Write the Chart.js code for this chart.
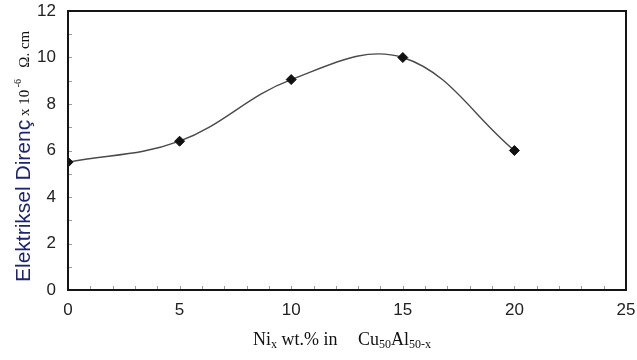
<!DOCTYPE html>
<html>
<head>
<meta charset="utf-8">
<script src="https://cdn.jsdelivr.net/npm/chart.js@4/dist/chart.umd.min.js"></script>
<style>
html,body{margin:0;padding:0;background:#fff;}
#wrap{width:637px;height:360px;position:relative;}
</style>
</head>
<body>
<div id="wrap"><canvas id="c" width="637" height="360"></canvas></div>
<script>
// Data
const niContent = [0, 5, 10, 15, 20];
const resistivity = [5.5, 6.4, 9.05, 10.0, 6.0];
const xTicks = [0, 5, 10, 15, 20, 25];
const yTicks = [0, 2, 4, 6, 8, 10, 12];

const sans = '"Liberation Sans", Arial, sans-serif';
const serif = '"Liberation Serif", "Times New Roman", serif';

const framePlugin = {
  id: 'frame',
  afterDraw(chart) {
    const {ctx, chartArea: a, scales} = chart;
    ctx.save();
    // minor ticks inside
    ctx.strokeStyle = '#9a9a9a';
    ctx.lineWidth = 1;
    for (let v = 1; v < 25; v++) {
      const x = Math.round(scales.x.getPixelForValue(v)) + 0.5;
      ctx.beginPath(); ctx.moveTo(x, a.bottom); ctx.lineTo(x, a.bottom - 4); ctx.stroke();
    }
    for (let v = 1; v < 12; v++) {
      const y = Math.round(scales.y.getPixelForValue(v)) + 0.5;
      ctx.beginPath(); ctx.moveTo(a.left, y); ctx.lineTo(a.left + 4, y); ctx.stroke();
    }
    // frame
    ctx.strokeStyle = '#151515';
    ctx.lineWidth = 2;
    ctx.strokeRect(a.left, a.top, a.right - a.left, a.bottom - a.top);

    // X axis title with subscripts
    ctx.fillStyle = '#111';
    ctx.textBaseline = 'alphabetic';
    ctx.textAlign = 'left';
    let x = 253, by = 345;
    const put = (t, font, dy) => { ctx.font = font; ctx.fillText(t, x, by + dy); x += ctx.measureText(t).width; };
    put('Ni', '18px ' + serif, 0);
    put('x', '12px ' + serif, 3);
    put(' wt.% in', '18px ' + serif, 0);
    x = 358;
    put('Cu', '18px ' + serif, 0);
    put('50', '12px ' + serif, 3);
    put('Al', '18px ' + serif, 0);
    put('50-x', '12px ' + serif, 3);

    // Y axis title rotated
    ctx.save();
    ctx.translate(30, 282);
    ctx.rotate(-Math.PI / 2);
    let p = 0;
    const putR = (t, font, color, dy) => { ctx.font = font; ctx.fillStyle = color; ctx.fillText(t, p, dy); p += ctx.measureText(t).width; };
    putR('Elektriksel Direnç', '21px ' + sans, '#1c2472', 0);
    putR(' x 10', '15px ' + serif, '#111', -1);
    putR(' -6', '10px ' + serif, '#111', -9);
    putR('   Ω. cm', '15px ' + serif, '#111', -1);
    ctx.restore();
    ctx.restore();
  }
};

function zeroPad(s) { s.paddingTop = 0; s.paddingBottom = 0; s.paddingLeft = 0; s.paddingRight = 0; }

new Chart(document.getElementById('c'), {
  type: 'line',
  data: {
    datasets: [{
      data: niContent.map((v, i) => ({x: v, y: resistivity[i]})),
      borderColor: '#4a4a4a',
      borderWidth: 1.4,
      tension: 0.38,
      pointStyle: 'rectRot',
      pointRadius: 5,
      pointBackgroundColor: '#111',
      pointBorderColor: '#111',
      pointBorderWidth: 1,
      fill: false
    }]
  },
  options: {
    responsive: false,
    animation: false,
    devicePixelRatio: 1,
    layout: {padding: {top: 11, right: 11, left: 0, bottom: 0}},
    plugins: {legend: {display: false}, tooltip: {enabled: false}},
    scales: {
      x: {
        type: 'linear', min: 0, max: 25,
        afterBuildTicks(s) { s.ticks = xTicks.map(v => ({value: v})); },
        afterFit(s) { s.height = 70; zeroPad(s); },
        grid: {display: false, drawTicks: false},
        border: {display: false},
        ticks: {font: {family: sans, size: 17}, color: '#222', padding: 10, maxRotation: 0}
      },
      y: {
        min: 0, max: 12,
        afterBuildTicks(s) { s.ticks = yTicks.map(v => ({value: v})); },
        afterFit(s) { s.width = 68; zeroPad(s); },
        grid: {display: false, drawTicks: false},
        border: {display: false},
        ticks: {font: {family: sans, size: 17}, color: '#222', padding: 12}
      }
    }
  },
  plugins: [framePlugin]
});
</script>
</body>
</html>
